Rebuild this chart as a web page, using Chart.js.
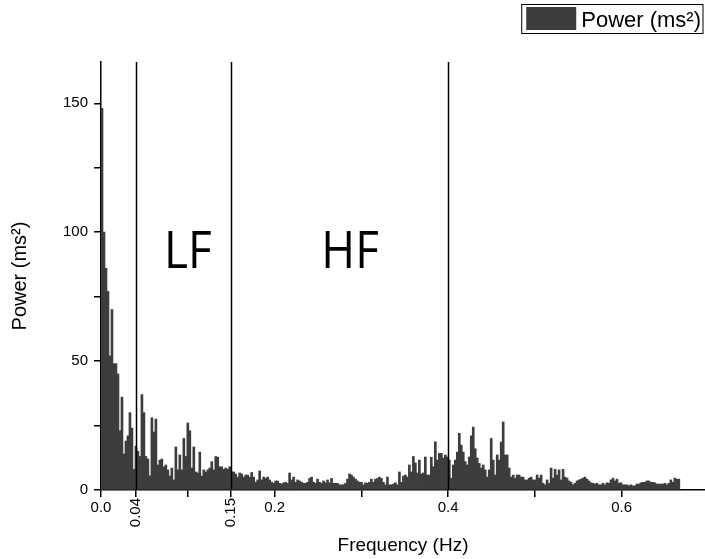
<!DOCTYPE html>
<html>
<head>
<meta charset="utf-8">
<script src="https://cdn.jsdelivr.net/npm/chart.js@4.4.0/dist/chart.umd.min.js"></script>
<style>
  html, body { margin: 0; padding: 0; background: #fff; }
</style>
</head>
<body>
<canvas id="psd" width="705" height="559"></canvas>
<script>
// spectrum bin width (Hz)
const freqStep = 0.0023;

const power = [
    148, 100, 86, 77, 52, 70, 49, 49, 45, 23, 36, 14, 19, 21, 30, 24, 8, 17, 15, 13,
    37, 30, 13, 12, 5.5, 28, 22.5, 27.5, 9.7, 11.6, 12, 9, 9.7, 7.8, 5.4, 8.5, 3.9, 16.7, 7.8, 13.6,
    7.8, 20, 13, 26, 23, 8.5, 16.7, 7, 6.6, 14.7, 5.4, 7.8, 7, 7.8, 8.5, 11, 7.8, 13, 12.7, 9,
    9, 8, 8.5, 8, 9, 7, 7, 6.2, 5, 6.6, 6.2, 5, 5.8, 5.8, 5, 6.8, 5, 3, 3.9, 7.4,
    3.9, 5, 4.5, 5, 3.9, 3, 2.6, 3.5, 3.5, 2.6, 2.3, 2.8, 3, 2.6, 6.6, 3.9, 5, 3, 3.9, 3.5,
    3, 2.6, 2.6, 3, 4.5, 5, 3, 2.6, 4.2, 3, 2.6, 3.5, 2.8, 3.9, 2.8, 4.5, 2.6, 2.6, 2.6, 2,
    2, 2, 2.6, 4.2, 6.2, 5.8, 5, 4.2, 3.5, 3, 3, 2, 2.8, 2.6, 3, 4.2, 3, 4.2, 4.5, 5,
    4.5, 3, 2, 5, 2, 2, 2.3, 2.8, 2, 7, 3, 5.4, 5.8, 5, 9.7, 7, 13, 10.5, 6.6, 11.6,
    6.2, 6.6, 12.8, 5.8, 5.8, 12.7, 9, 18.7, 11.6, 14.2, 14.2, 12.4, 13.6, 12.8, 11.6, 4.6, 9.7, 11.6, 14.7, 22,
    17.4, 14.7, 11, 9.7, 12.8, 21, 24.4, 16, 12.4, 10.3, 8.5, 9.7, 7.8, 5, 7.8, 20, 11.6, 5.8, 13.6, 11.6,
    18.6, 26.4, 13.6, 13.6, 8.5, 5, 5.8, 4.6, 5.8, 5.8, 5, 5, 3.9, 3.9, 4.6, 5, 3.9, 3.9, 5.8, 4.6,
    5.8, 2.6, 2, 3.9, 2.6, 8.5, 4.6, 8, 5.8, 7.8, 3.9, 8, 5, 4.6, 3.5, 3, 2, 2.6, 3.5, 3.9,
    4.2, 4.6, 5, 4.2, 3.5, 2.8, 2.6, 2.3, 2.6, 2, 2, 2.6, 2, 2.8, 2.6, 3.9, 4.6, 3.5, 4.2, 2.6,
    2.8, 2, 2, 2, 1.6, 2, 1.6, 1.6, 2.3, 2.3, 2.8, 3, 3, 3.5, 3.5, 3, 3, 2.8, 2.3, 2.3,
    2.3, 2.3, 2.6, 2, 2.6, 3.9, 3, 4.6, 4.2, 4.2
];

// band limits (Hz) and band names
const bandEdges = [0.04, 0.15, 0.4];
const bandNames = ['LF', 'HF'];
const bandNameX = [0.1, 0.287];
const bandNameY = 86;

// axis ticks
const xTickValues = [0, 0.04, 0.1, 0.15, 0.2, 0.3, 0.4, 0.5, 0.6];
const xTickLabels = ['0.0', '', '', '', '0.2', '', '0.4', '', '0.6'];
const xBandTickValues = [0.04, 0.15];
const xBandTickLabels = ['0.04', '0.15'];
const yLabelValues = [0, 50, 100, 150];

const FONT = "'Liberation Sans', Arial, sans-serif";

const bandPlugin = {
    id: 'bands',
    afterDatasetsDraw(chart) {
        const ctx = chart.ctx;
        const xs = chart.scales.x, ys = chart.scales.y;
        const area = chart.chartArea;
        ctx.save();
        ctx.strokeStyle = '#000';
        ctx.lineWidth = 1.5;
        bandEdges.forEach(f => {
            const px = Math.round(xs.getPixelForValue(f)) + 0.5;
            ctx.beginPath();
            ctx.moveTo(px, area.top);
            ctx.lineTo(px, area.bottom);
            ctx.stroke();
        });
        ctx.fillStyle = '#000';
        ctx.font = "51px 'Open Sans', sans-serif";
        ctx.textAlign = 'center';
        ctx.textBaseline = 'alphabetic';
        bandNames.forEach((name, i) => {
            ctx.save();
            ctx.translate(xs.getPixelForValue(bandNameX[i]), ys.getPixelForValue(bandNameY));
            ctx.scale(0.9, 1);
            ctx.fillText(name, 0, 0);
            ctx.restore();
        });
        ctx.restore();
    },
    afterDraw(chart) {
        const ctx = chart.ctx;
        const xs = chart.scales.x;
        ctx.save();
        // rotated band-edge tick labels
        ctx.fillStyle = '#000';
        ctx.font = '15px ' + FONT;
        ctx.textAlign = 'right';
        ctx.textBaseline = 'middle';
        xBandTickValues.forEach((f, i) => {
            ctx.save();
            ctx.translate(xs.getPixelForValue(f), xs.top + 8);
            ctx.rotate(-Math.PI / 2);
            ctx.fillText(xBandTickLabels[i], 0, 0);
            ctx.restore();
        });
        // framed legend, top right
        const ds = chart.data.datasets[0];
        ctx.font = '22px ' + FONT;
        ctx.textAlign = 'left';
        ctx.textBaseline = 'alphabetic';
        const w = ctx.measureText(ds.label).width;
        const textLeft = chart.width - 4 - w;
        const boxLeft = textLeft - 5 - 50;
        ctx.fillStyle = ds.backgroundColor;
        ctx.fillRect(boxLeft, 7, 50, 23);
        ctx.fillStyle = '#000';
        ctx.fillText(ds.label, textLeft, 27);
        ctx.strokeStyle = '#000';
        ctx.lineWidth = 1;
        ctx.strokeRect(boxLeft - 4.5, 4.5, chart.width - 2 - (boxLeft - 4.5), 29);
        ctx.restore();
    }
};

const ctx = document.getElementById('psd').getContext('2d');
new Chart(ctx, {
    type: 'bar',
    data: {
        datasets: [{
            label: 'Power (ms²)',
            data: power.map((v, i) => ({ x: i * freqStep + freqStep / 2, y: v })),
            backgroundColor: '#3d3d3d',
            borderWidth: 0,
            barPercentage: 1,
            categoryPercentage: 1
        }]
    },
    options: {
        responsive: false,
        animation: false,
        layout: { padding: { left: 0, right: 0, top: 62, bottom: 0 } },
        scales: {
            x: {
                type: 'linear',
                offset: false,
                min: 0,
                max: 0.696,
                afterBuildTicks: s => { s.ticks = xTickValues.map(v => ({ value: v })); },
                afterFit: s => { s.height = 69; },
                ticks: {
                    autoSkip: false,
                    maxRotation: 0,
                    padding: 2,
                    color: '#000',
                    font: { family: FONT, size: 15 },
                    callback: v => xTickLabels[xTickValues.indexOf(v)]
                },
                grid: { offset: false, drawOnChartArea: false, drawTicks: true, tickLength: 7, color: '#000', lineWidth: 1.5 },
                border: { display: true, color: '#000', width: 1.5 },
                title: {
                    display: true,
                    text: 'Frequency (Hz)',
                    color: '#000',
                    font: { family: FONT, size: 19 },
                    padding: { top: 0, bottom: 2 }
                }
            },
            y: {
                min: 0,
                max: 166,
                afterFit: s => { s.width = 101; },
                ticks: {
                    stepSize: 25,
                    includeBounds: false,
                    padding: 6,
                    color: '#000',
                    font: { family: FONT, size: 15 },
                    callback: v => yLabelValues.includes(v) ? String(v) : ''
                },
                grid: { drawOnChartArea: false, drawTicks: true, tickLength: 7, color: '#000', lineWidth: 1.5 },
                border: { display: true, color: '#000', width: 1.5 },
                title: {
                    display: true,
                    text: 'Power (ms²)',
                    color: '#000',
                    font: { family: FONT, size: 20 },
                    padding: { top: 8, bottom: 0 }
                }
            }
        },
        plugins: {
            legend: { display: false },
            tooltip: { enabled: false }
        }
    },
    plugins: [bandPlugin]
});
</script>
</body>
</html>
